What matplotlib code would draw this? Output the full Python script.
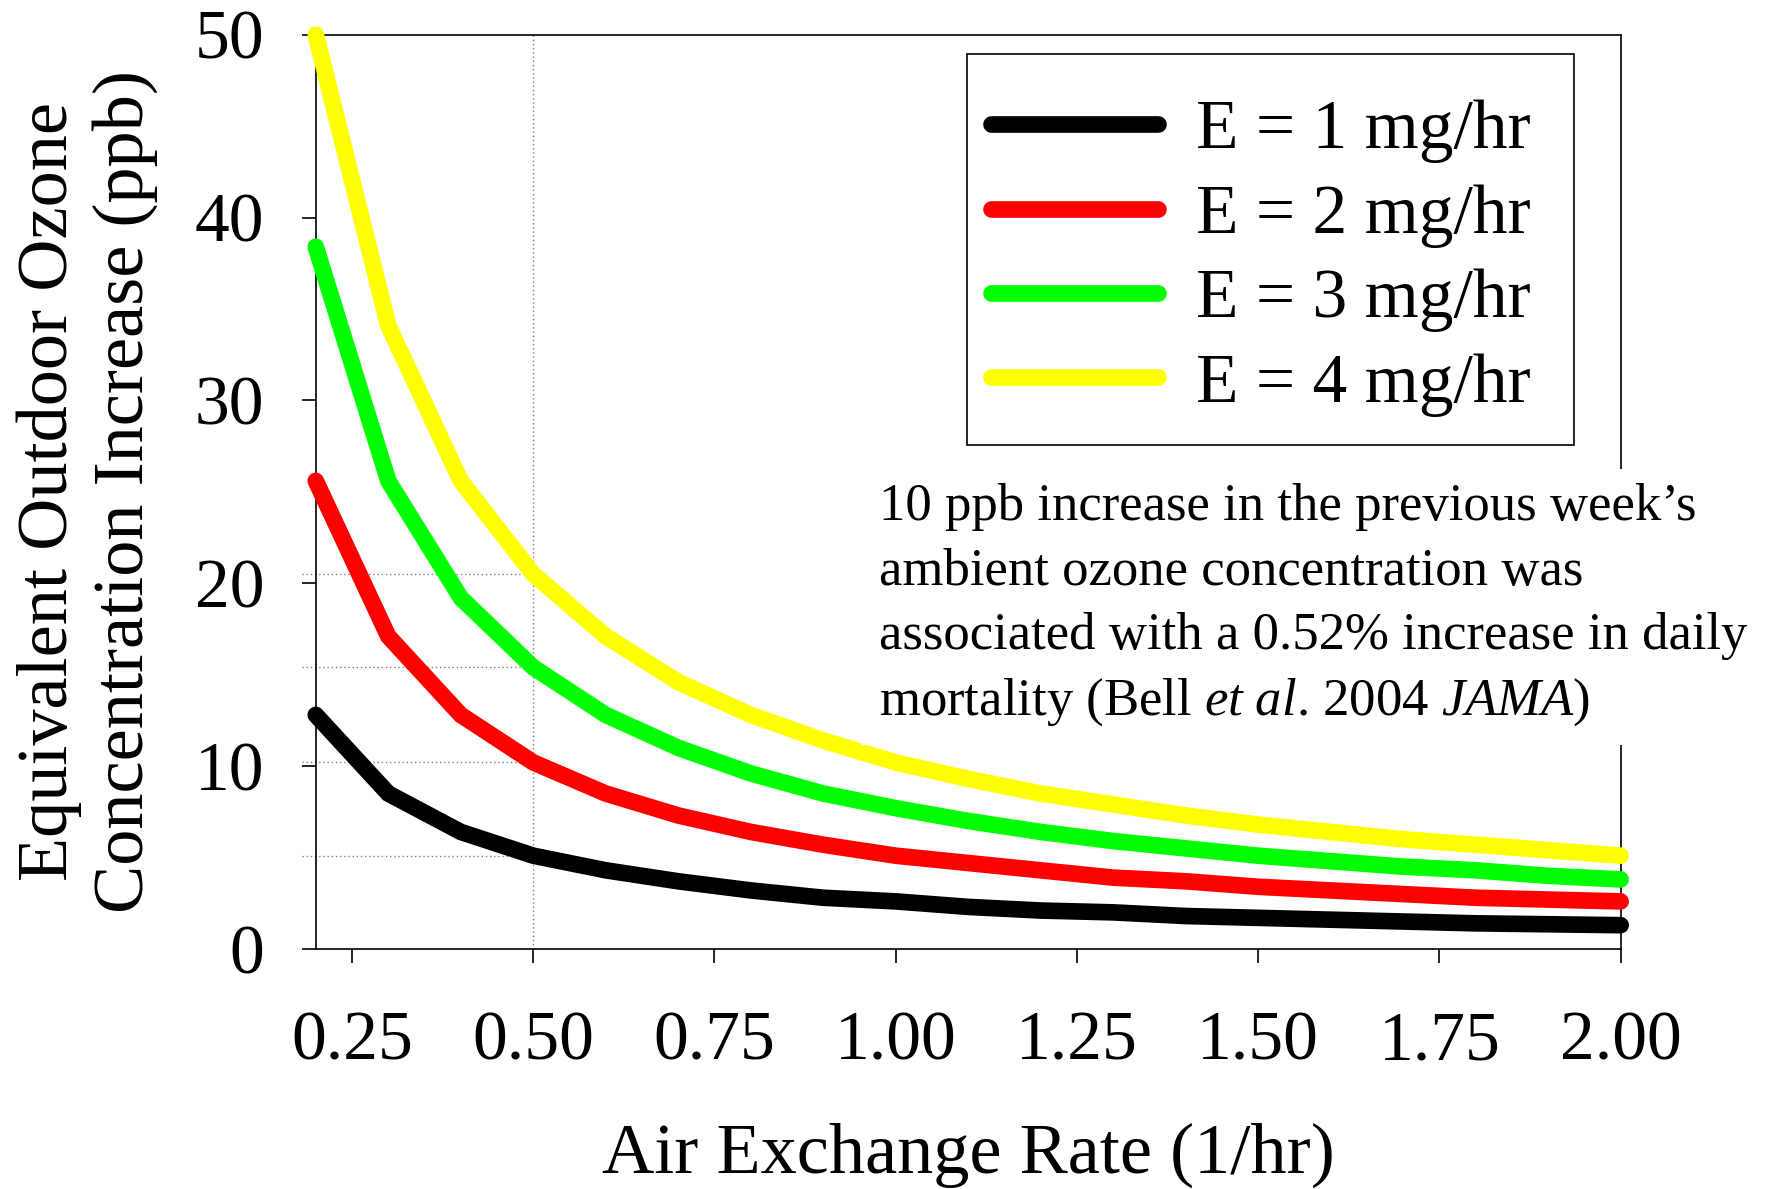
import matplotlib
matplotlib.use("Agg")
import matplotlib.pyplot as plt
from matplotlib.patches import Rectangle

plt.rcParams["font.family"] = ["Liberation Serif", "DejaVu Serif"]
plt.rcParams["mathtext.fontset"] = "custom"
plt.rcParams["mathtext.rm"] = "Liberation Serif"
plt.rcParams["mathtext.it"] = "Liberation Serif:italic"

AIR_EXCHANGE = [0.2, 0.3, 0.4, 0.5, 0.6, 0.7, 0.8, 0.9, 1.0, 1.1,
                1.2, 1.3, 1.4, 1.5, 1.6, 1.7, 1.8, 1.9, 2.0]

E1 = [12.8, 8.5, 6.4, 5.1, 4.3, 3.7, 3.2, 2.8, 2.6, 2.3,
      2.1, 2.0, 1.8, 1.7, 1.6, 1.5, 1.4, 1.35, 1.3]
E2 = [25.6, 17.1, 12.8, 10.2, 8.5, 7.3, 6.4, 5.7, 5.1, 4.7,
      4.3, 3.9, 3.7, 3.4, 3.2, 3.0, 2.8, 2.7, 2.6]
E3 = [38.4, 25.6, 19.2, 15.4, 12.8, 11.0, 9.6, 8.5, 7.7, 7.0,
      6.4, 5.9, 5.5, 5.1, 4.8, 4.5, 4.3, 4.0, 3.8]
E4 = [50.0, 34.1, 25.6, 20.5, 17.1, 14.6, 12.8, 11.4, 10.2, 9.3,
      8.5, 7.9, 7.3, 6.8, 6.4, 6.0, 5.7, 5.4, 5.1]

SERIES = [
    ("E = 1 mg/hr", E1, "#000000"),
    ("E = 2 mg/hr", E2, "#FF0000"),
    ("E = 3 mg/hr", E3, "#00FF00"),
    ("E = 4 mg/hr", E4, "#FFFF00"),
]

X_TICKS = [0.25, 0.50, 0.75, 1.00, 1.25, 1.50, 1.75, 2.00]
Y_TICKS = [0, 10, 20, 30, 40, 50]
REF_X = 0.5

NOTE = ("10 ppb increase in the previous week\u2019s\n"
        "ambient ozone concentration was\n"
        "associated with a 0.52% increase in daily\n"
        r"mortality (Bell $\mathit{et\ al}$. 2004 $\mathit{JAMA}$)")

fig = plt.figure(figsize=(17.78, 11.89), dpi=100)
ax = fig.add_axes([0.1776, 0.2019, 0.7339, 0.7689])

# dotted guide lines through the x = 0.5 points
ax.axvline(REF_X, color="#808080", linewidth=1.0, linestyle=(0, (1, 2)), zorder=1)
ref_idx = AIR_EXCHANGE.index(REF_X)
for _, values, _ in SERIES:
    ax.plot([0.181, 0.51], [values[ref_idx]] * 2, color="#808080", linewidth=1.0,
            linestyle=(0, (1, 2)), zorder=1, clip_on=False)

for label, values, color in SERIES:
    ax.plot(AIR_EXCHANGE, values, color=color, linewidth=12, label=label,
            solid_capstyle="round", solid_joinstyle="miter", zorder=3, clip_on=False)

ax.set_xlim(0.2, 2.0)
ax.set_ylim(0, 50)
ax.set_xticks(X_TICKS)
ax.set_xticklabels([f"{t:.2f}" for t in X_TICKS])
ax.set_yticks(Y_TICKS)
ax.tick_params(axis="both", direction="out", length=10, width=1.2, labelsize=50)
ax.tick_params(axis="x", pad=35)
ax.tick_params(axis="y", pad=27)
for spine in ax.spines.values():
    spine.set_linewidth(1.2)

ax.set_xlabel("Air Exchange Rate (1/hr)", fontsize=52, va="baseline")
ax.xaxis.set_label_coords(0.5, -0.245)
ax.set_ylabel("Equivalent Outdoor Ozone\nConcentration Increase (ppb)", fontsize=52,
              va="center", linespacing=1.2)
ax.yaxis.set_label_coords(-0.175, 0.5)

# legend box drawn separately so its padding can differ top/side
ax.add_patch(Rectangle((0.4991, 0.5512), 0.4651, 0.4277, transform=ax.transAxes,
                       facecolor="white", edgecolor="black", linewidth=1.2,
                       zorder=4, clip_on=False))
leg = ax.legend(loc="upper left", bbox_to_anchor=(0.4991, 0.9554), fontsize=50,
                frameon=False, handlelength=2.4, handletextpad=0.55,
                labelspacing=0.3, borderpad=0.35, borderaxespad=0)
leg.set_zorder(5)

ax.text(0.4317, 0.5093, NOTE, transform=ax.transAxes, ha="left", va="top",
        fontsize=38, linespacing=1.44, zorder=5,
        bbox=dict(facecolor="white", edgecolor="none", pad=12))

fig.savefig("out.png", dpi=100)
